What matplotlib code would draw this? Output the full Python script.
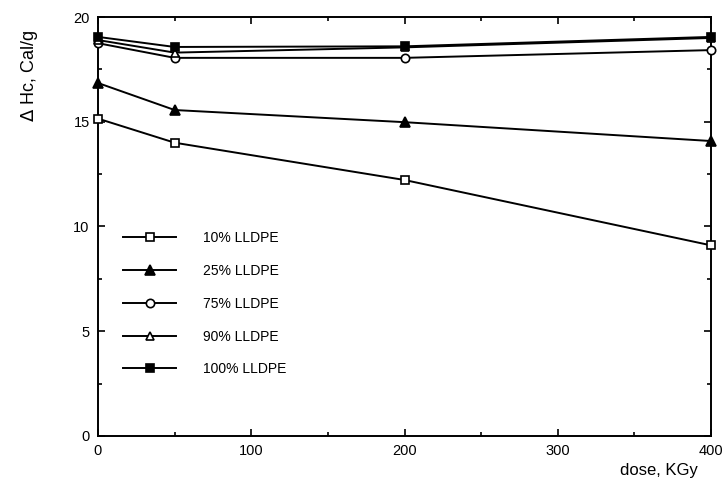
import numpy as np
import matplotlib.pyplot as plt
from matplotlib.ticker import MultipleLocator

plt.rcParams['font.family'] = ['Liberation Sans', 'DejaVu Sans']

dose = [0, 50, 200, 400]
h10 = [15.15, 14.0, 12.22, 9.1]
h25 = [16.85, 15.56, 14.98, 14.08]
h75 = [18.75, 18.05, 18.05, 18.42]
h90 = [18.9, 18.3, 18.55, 19.0]
h100 = [19.05, 18.57, 18.6, 19.05]
labels = ['10% LLDPE', '25% LLDPE', '75% LLDPE', '90% LLDPE', '100% LLDPE']

fig = plt.figure(figsize=(7.27, 4.79), dpi=100)
ax = fig.add_axes([0.1348, 0.0898, 0.8432, 0.8747])

kw = dict(color='black', lw=1.4, markeredgewidth=1.2, clip_on=False, zorder=3)
ax.plot(dose, h10, marker='s', mfc='white', ms=6, label=labels[0], **kw)
ax.plot(dose, h25, marker='^', mfc='black', ms=7, label=labels[1], **kw)
ax.plot(dose, h75, marker='o', mfc='white', ms=6, label=labels[2], **kw)
ax.plot(dose, h90, marker='^', mfc='white', ms=6, label=labels[3], **kw)
ax.plot(dose, h100, marker='s', mfc='black', ms=6, label=labels[4], **kw)

ax.set_xlim(0, 400)
ax.set_ylim(0, 20)
ax.xaxis.set_major_locator(MultipleLocator(100))
ax.xaxis.set_minor_locator(MultipleLocator(50))
ax.yaxis.set_major_locator(MultipleLocator(5))
ax.yaxis.set_minor_locator(MultipleLocator(2.5))
ax.tick_params(which='both', direction='in', top=True, right=True, width=1.2,
               labelsize=10.5, pad=6)
ax.tick_params(which='major', length=5)
ax.tick_params(which='minor', length=3)
for s in ax.spines.values():
    s.set_linewidth(1.4)

ax.set_xlabel('dose, KGy', fontsize=12)
ax.xaxis.set_label_coords(0.915, -0.065)
ax.set_ylabel('$\\Delta$ Hc, Cal/g', fontsize=13)
ax.yaxis.set_label_coords(-0.095, 0.86)

ax.legend(loc='upper left', bbox_to_anchor=(0.03, 0.505), frameon=False,
          fontsize=10, handlelength=3.8, handletextpad=1.9, labelspacing=1.35,
          borderpad=0)

fig.savefig('out.png', dpi=100)
